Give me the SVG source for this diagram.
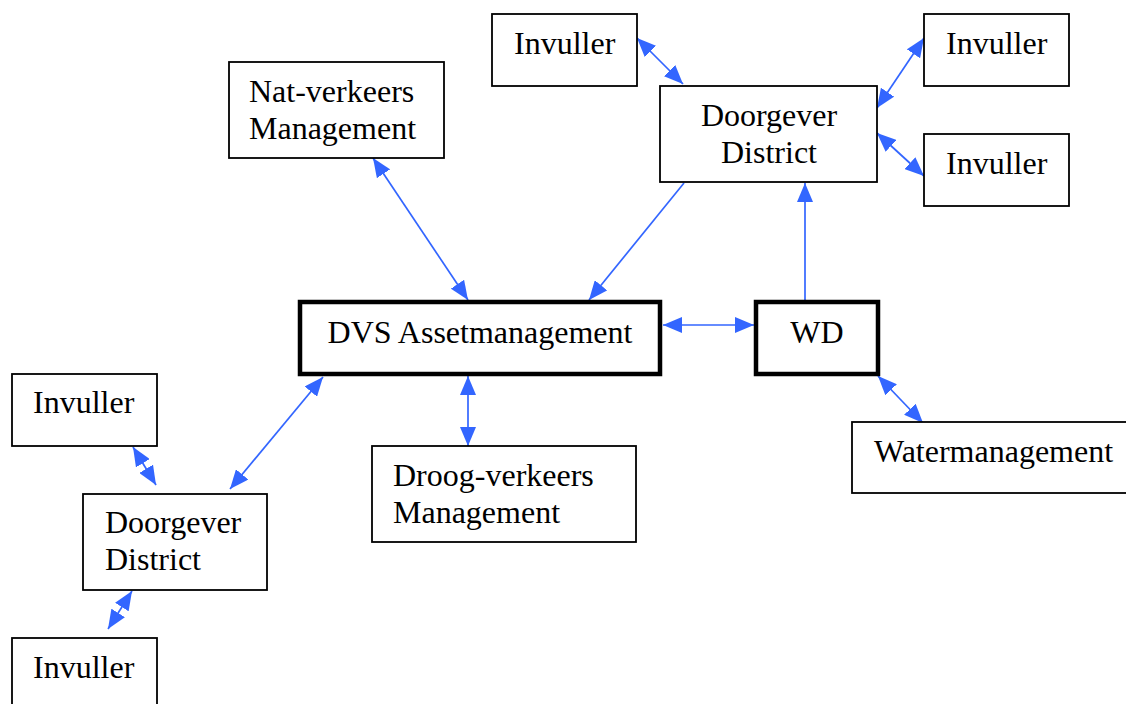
<svg xmlns="http://www.w3.org/2000/svg" width="1126" height="704" viewBox="0 0 1126 704">
<style>
.box{fill:#fff;stroke:#000;stroke-width:1.8}
.thick{fill:#fff;stroke:#000;stroke-width:4.5}
text{font-family:"Liberation Serif","Times New Roman",serif;font-size:32px;fill:#000}
.c{text-anchor:middle}
.ln{stroke:#3366ff;stroke-width:1.7;fill:none}
</style>
<defs>
<marker id="ah" markerUnits="userSpaceOnUse" markerWidth="19" markerHeight="16" refX="19" refY="8" orient="auto-start-reverse">
<path d="M0,0 L19,8 L0,16 z" fill="#3366ff"/>
</marker>
</defs>
<rect width="1126" height="704" fill="#fff"/>
<g id="connectors">
<line class="ln" x1="637" y1="38" x2="683" y2="84" marker-start="url(#ah)" marker-end="url(#ah)"/>
<line class="ln" x1="924" y1="38" x2="877" y2="108" marker-start="url(#ah)" marker-end="url(#ah)"/>
<line class="ln" x1="877" y1="133" x2="924" y2="176" marker-start="url(#ah)" marker-end="url(#ah)"/>
<line class="ln" x1="684" y1="183" x2="589" y2="300" marker-end="url(#ah)"/>
<line class="ln" x1="805" y1="300" x2="805" y2="183" marker-end="url(#ah)"/>
<line class="ln" x1="373" y1="158" x2="468" y2="300" marker-start="url(#ah)" marker-end="url(#ah)"/>
<line class="ln" x1="663" y1="325" x2="754" y2="325" marker-start="url(#ah)" marker-end="url(#ah)"/>
<line class="ln" x1="468" y1="376" x2="468" y2="446" marker-start="url(#ah)" marker-end="url(#ah)"/>
<line class="ln" x1="323" y1="377" x2="230" y2="489" marker-start="url(#ah)" marker-end="url(#ah)"/>
<line class="ln" x1="133" y1="447" x2="156" y2="485" marker-start="url(#ah)" marker-end="url(#ah)"/>
<line class="ln" x1="132" y1="591" x2="108" y2="629" marker-start="url(#ah)" marker-end="url(#ah)"/>
<line class="ln" x1="878" y1="376" x2="923" y2="423" marker-start="url(#ah)" marker-end="url(#ah)"/>
</g>
<g id="invuller-top">
<rect class="box" x="492" y="14" width="145" height="72"/>
<text x="514" y="54">Invuller</text>
</g>
<g id="doorgever-top">
<rect class="box" x="660" y="86" width="217" height="96"/>
<text class="c" x="769" y="126">Doorgever</text>
<text class="c" x="769" y="163">District</text>
</g>
<g id="invuller-tr">
<rect class="box" x="924" y="14" width="145" height="72"/>
<text x="946" y="54">Invuller</text>
</g>
<g id="invuller-rm">
<rect class="box" x="924" y="134" width="145" height="72"/>
<text x="946" y="174">Invuller</text>
</g>
<g id="nat-verkeers">
<rect class="box" x="229" y="62" width="215" height="96"/>
<text x="249" y="102">Nat-verkeers</text>
<text x="249" y="139">Management</text>
</g>
<g id="dvs">
<rect class="thick" x="300" y="302" width="360" height="72"/>
<text class="c" x="480" y="343">DVS Assetmanagement</text>
</g>
<g id="wd">
<rect class="thick" x="756" y="302" width="122" height="72"/>
<text class="c" x="817" y="343">WD</text>
</g>
<g id="watermanagement">
<rect class="box" x="852" y="422" width="290" height="71"/>
<text x="874" y="462">Watermanagement</text>
</g>
<g id="droog-verkeers">
<rect class="box" x="372" y="446" width="264" height="96"/>
<text x="393" y="486">Droog-verkeers</text>
<text x="393" y="523">Management</text>
</g>
<g id="invuller-left">
<rect class="box" x="12" y="374" width="145" height="72"/>
<text x="33" y="413">Invuller</text>
</g>
<g id="doorgever-left">
<rect class="box" x="83" y="494" width="184" height="96"/>
<text x="105" y="533">Doorgever</text>
<text x="105" y="570">District</text>
</g>
<g id="invuller-bottom">
<rect class="box" x="12" y="638" width="145" height="80"/>
<text x="33" y="678">Invuller</text>
</g>
</svg>
